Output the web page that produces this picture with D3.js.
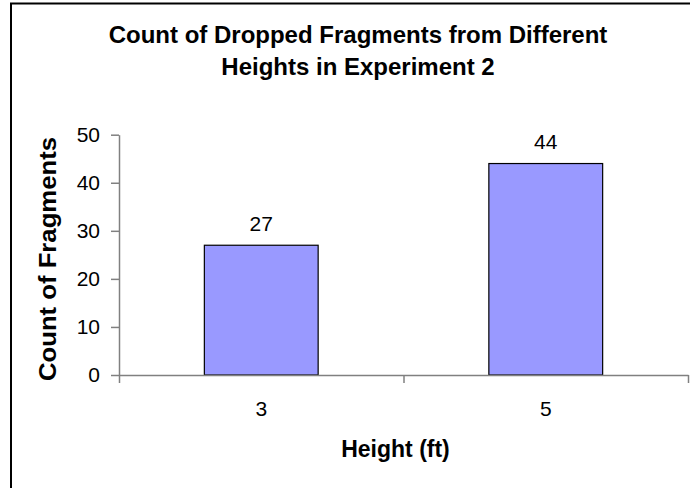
<!DOCTYPE html>
<html>
<head>
<meta charset="utf-8">
<script src="https://cdn.jsdelivr.net/npm/d3@7"></script>
<style>
  body { margin: 0; background: #fff; }
  svg { display: block; }
  text { font-family: "Liberation Sans", Arial, Helvetica, sans-serif; fill: #000; }
</style>
</head>
<body>
<svg id="chart" width="690" height="488"></svg>
<script>
// Data
const heights = ["3", "5"];
const fragmentCounts = [27, 44];
const yTicks = [0, 10, 20, 30, 40, 50];
const chartTitle = ["Count of Dropped Fragments from Different", "Heights in Experiment 2"];
const xTitle = "Height (ft)";
const yTitle = "Count of Fragments";

const svg = d3.select("#chart");
const plot = { left: 119, right: 688, top: 134.7, bottom: 375 };
const numberSize = 21;

// Outer chart frame
svg.append("rect")
  .attr("x", 11).attr("y", 3.5)
  .attr("width", 720).attr("height", 520)
  .attr("fill", "#fff")
  .attr("stroke", "#000")
  .attr("stroke-width", 2);

// Scales
const x = d3.scaleBand().domain(heights).range([plot.left, plot.right]).padding(0);
const y = d3.scaleLinear().domain([0, 50]).range([plot.bottom, plot.top]);
const barFrac = 0.4;

// Bars
svg.append("g").selectAll("rect")
  .data(heights)
  .join("rect")
  .attr("x", (d) => x(d) + x.bandwidth() * (1 - barFrac) / 2)
  .attr("y", (d, i) => y(fragmentCounts[i]))
  .attr("width", x.bandwidth() * barFrac)
  .attr("height", (d, i) => y(0) - y(fragmentCounts[i]))
  .attr("fill", "#9999FF")
  .attr("stroke", "#000")
  .attr("stroke-width", 1.2);

// Value labels
svg.append("g").selectAll("text")
  .data(heights)
  .join("text")
  .attr("x", (d) => x(d) + x.bandwidth() / 2)
  .attr("y", (d, i) => y(fragmentCounts[i]) - 14.5)
  .attr("text-anchor", "middle")
  .attr("font-size", numberSize)
  .text((d, i) => fragmentCounts[i]);

// Y axis
const yAxis = svg.append("g")
  .attr("transform", `translate(${plot.left},0)`)
  .call(d3.axisLeft(y).tickValues(yTicks).tickSize(8).tickPadding(11).tickSizeOuter(0));
yAxis.selectAll("text").attr("font-size", numberSize).style("font-family", "'Liberation Sans', Arial, sans-serif");
yAxis.selectAll("line, path").attr("stroke", "#808080").attr("stroke-width", 1.5);

// X axis: ticks at category boundaries, labels at category centres
const xBoundary = d3.scaleLinear().domain([0, heights.length]).range([plot.left, plot.right]);
const xAxis = svg.append("g")
  .attr("transform", `translate(0,${plot.bottom})`)
  .call(d3.axisBottom(xBoundary).tickValues(d3.range(heights.length + 1)).tickSize(8).tickFormat("").tickSizeOuter(0));
xAxis.selectAll("line, path").attr("stroke", "#808080").attr("stroke-width", 1.5);

svg.append("g").selectAll("text")
  .data(heights)
  .join("text")
  .attr("x", (d) => x(d) + x.bandwidth() / 2)
  .attr("y", 415.7)
  .attr("text-anchor", "middle")
  .attr("font-size", numberSize)
  .text((d) => d);

// Title
svg.append("g").selectAll("text")
  .data(chartTitle)
  .join("text")
  .attr("x", 358)
  .attr("y", (d, i) => 42.7 + i * 32.3)
  .attr("text-anchor", "middle")
  .attr("font-size", 24)
  .attr("font-weight", "bold")
  .text((d) => d);

// Axis titles
svg.append("text")
  .attr("x", 395.5)
  .attr("y", 457.3)
  .attr("text-anchor", "middle")
  .attr("font-size", 23)
  .attr("font-weight", "bold")
  .text(xTitle);

svg.append("text")
  .attr("transform", "translate(56,259) rotate(-90)")
  .attr("text-anchor", "middle")
  .attr("font-size", 23)
  .attr("font-weight", "bold")
  .attr("textLength", 244)
  .attr("lengthAdjust", "spacingAndGlyphs")
  .text(yTitle);
</script>
</body>
</html>
